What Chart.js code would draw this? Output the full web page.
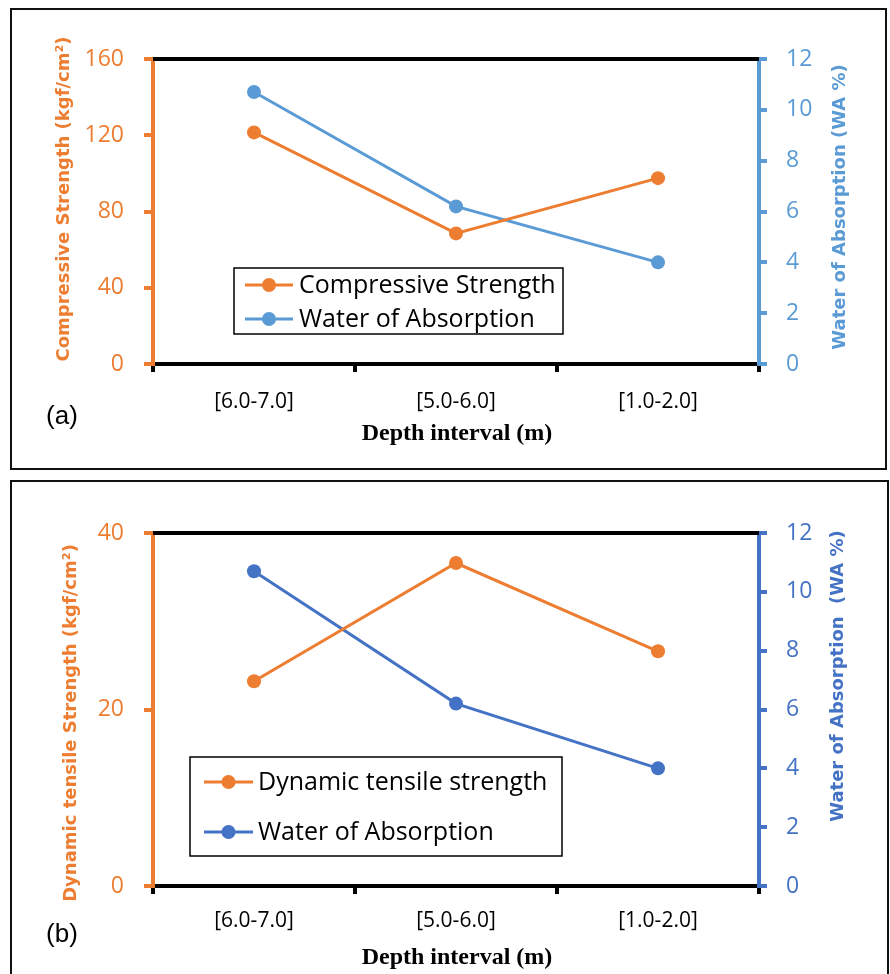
<!DOCTYPE html>
<html><head><meta charset="utf-8">
<script src="https://cdn.jsdelivr.net/npm/chart.js@4.4.1/dist/chart.umd.min.js"></script>
<style>
body{margin:0;background:#fff;width:890px;height:974px;overflow:hidden;position:relative;}
.frame{position:absolute;border:2px solid #111;box-sizing:border-box;}
canvas{position:absolute;left:0;}
</style></head><body>
<div class="frame" style="left:10px;top:8px;width:877px;height:462px"></div>
<div class="frame" style="left:10px;top:480px;width:879px;height:520px"></div>
<canvas id="ca" width="890" height="476" style="top:0"></canvas>
<canvas id="cb" width="890" height="498" style="top:476px"></canvas>
<script>
const categories = ['[6.0-7.0]', '[5.0-6.0]', '[1.0-2.0]'];
const compressiveStrength = [121.5, 68.5, 97.5];
const waterAbsorptionA = [10.7, 6.2, 4.0];
const dynamicTensileStrength = [23.2, 36.6, 26.6];
const waterAbsorptionB = [10.7, 6.2, 4.0];
const leftTicksA = [0, 40, 80, 120, 160];
const leftTicksB = [0, 20, 40];
const rightTicks = [0, 2, 4, 6, 8, 10, 12];

const ORANGE = '#ED7D31';
const BLUE_A = '#5B9BD5';
const BLUE_B = '#4472C4';

const decor = {
  id: 'decor',
  beforeDatasetsDraw(chart) {
    const {ctx, chartArea: a} = chart;
    ctx.save();
    ctx.strokeStyle = '#000';
    ctx.lineWidth = 4;
    ctx.beginPath();
    ctx.moveTo(a.left, a.top);
    ctx.lineTo(a.right, a.top);
    ctx.stroke();
    ctx.restore();
  },
  afterDraw(chart, args, o) {
    const ctx = chart.ctx;
    ctx.save();
    ctx.textAlign = 'center';
    ctx.textBaseline = 'middle';
    ctx.font = 'bold 18px "DejaVu Sans"';
    ctx.fillStyle = ORANGE;
    ctx.save(); ctx.translate(o.lt[0], o.lt[1]); ctx.rotate(-Math.PI / 2);
    ctx.fillText(o.leftTitle, 0, 0); ctx.restore();
    ctx.fillStyle = o.blue;
    ctx.save(); ctx.translate(o.rt[0], o.rt[1]); ctx.rotate(-Math.PI / 2);
    ctx.fillText(o.rightTitle, 0, 0); ctx.restore();
    ctx.fillStyle = '#000';
    ctx.font = '26px "Liberation Sans"';
    ctx.fillText(o.tag, o.tagPos[0], o.tagPos[1]);
    ctx.font = 'bold 24px "Liberation Serif"';
    ctx.fillText('Depth interval (m)', o.xt[0], o.xt[1]);
    const L = o.legend;
    ctx.fillStyle = '#fff';
    ctx.fillRect(L.x, L.y, L.w, L.h);
    ctx.strokeStyle = '#000';
    ctx.lineWidth = 1.5;
    ctx.strokeRect(L.x, L.y, L.w, L.h);
    chart.data.datasets.forEach((d, i) => {
      const y = L.rows[i];
      ctx.strokeStyle = d.borderColor;
      ctx.lineWidth = 3;
      ctx.beginPath(); ctx.moveTo(L.lx0, y); ctx.lineTo(L.lx1, y); ctx.stroke();
      ctx.fillStyle = d.borderColor;
      ctx.beginPath(); ctx.arc((L.lx0 + L.lx1) / 2, y, 7, 0, Math.PI * 2); ctx.fill();
      ctx.fillStyle = '#000';
      ctx.textAlign = 'left';
      ctx.font = '25px "Open Sans"';
      ctx.fillText(d.label, L.tx, y + 1);
    });
    ctx.restore();
  }
};

function makeChart(id, c) {
  return new Chart(document.getElementById(id), {
    type: 'line',
    data: {
      labels: categories,
      datasets: [
        { label: c.leftLabel, data: c.leftData, yAxisID: 'yL', borderColor: ORANGE, backgroundColor: ORANGE,
          borderWidth: 3, pointRadius: 7, pointBorderWidth: 0, pointBackgroundColor: ORANGE, tension: 0 },
        { label: c.rightLabel, data: c.rightData, yAxisID: 'yR', borderColor: c.blue, backgroundColor: c.blue,
          borderWidth: 3, pointRadius: 7, pointBorderWidth: 0, pointBackgroundColor: c.blue, tension: 0 }
      ]
    },
    options: {
      responsive: false,
      animation: false,
      layout: { padding: { top: c.padTop, left: 0, right: 0, bottom: 0 } },
      plugins: { legend: { display: false }, tooltip: { enabled: false }, decor: c.decor },
      scales: {
        x: {
          type: 'category', offset: true,
          grid: { offset: true, drawOnChartArea: false, drawTicks: true, tickLength: 8, color: '#000', lineWidth: 4 },
          border: { display: true, color: '#000', width: 4 },
          ticks: { color: '#000', font: { family: 'Open Sans', size: 21 }, padding: c.xPad, maxRotation: 0 },
          afterFit: s => { s.height = c.xHeight; }
        },
        yL: {
          position: 'left', min: c.leftTicks[0], max: c.leftTicks[c.leftTicks.length - 1],
          ticks: { stepSize: c.leftTicks[1] - c.leftTicks[0], color: ORANGE, font: { family: 'Open Sans', size: 23 }, padding: 20 },
          grid: { drawOnChartArea: false, tickLength: 9, color: ORANGE, lineWidth: 4 },
          border: { color: ORANGE, width: 4 },
          afterFit: s => { s.width = 153; }
        },
        yR: {
          position: 'right', min: rightTicks[0], max: rightTicks[rightTicks.length - 1],
          ticks: { stepSize: rightTicks[1] - rightTicks[0], color: c.blue, font: { family: 'Open Sans', size: 23 }, padding: 19 },
          grid: { drawOnChartArea: false, tickLength: 8, color: c.blue, lineWidth: 4 },
          border: { color: c.blue, width: 4 },
          afterFit: s => { s.width = 131; }
        }
      }
    },
    plugins: [decor]
  });
}

makeChart('ca', {
  leftLabel: 'Compressive Strength', rightLabel: 'Water of Absorption',
  leftData: compressiveStrength, rightData: waterAbsorptionA, blue: BLUE_A,
  leftTicks: leftTicksA, padTop: 59, xHeight: 112, xPad: 17,
  decor: {
    blue: BLUE_A, leftTitle: 'Compressive Strength (kgf/cm²)', rightTitle: 'Water of Absorption (WA %)',
    lt: [64, 199], rt: [840, 207], tag: '(a)', tagPos: [62, 417], xt: [457, 434],
    legend: { x: 234, y: 268, w: 329, h: 66, rows: [285, 319], lx0: 245, lx1: 293, tx: 299 }
  }
});

makeChart('cb', {
  leftLabel: 'Dynamic tensile strength', rightLabel: 'Water of Absorption',
  leftData: dynamicTensileStrength, rightData: waterAbsorptionB, blue: BLUE_B,
  leftTicks: leftTicksB, padTop: 57, xHeight: 88, xPad: 14,
  decor: {
    blue: BLUE_B, leftTitle: 'Dynamic tensile Strength (kgf/cm²)', rightTitle: 'Water of Absorption  (WA %)',
    lt: [71, 247], rt: [838, 200], tag: '(b)', tagPos: [62, 459], xt: [457, 482],
    legend: { x: 190, y: 281, w: 372, h: 99, rows: [306, 356], lx0: 204, lx1: 253, tx: 258 }
  }
});
</script>
</body></html>
